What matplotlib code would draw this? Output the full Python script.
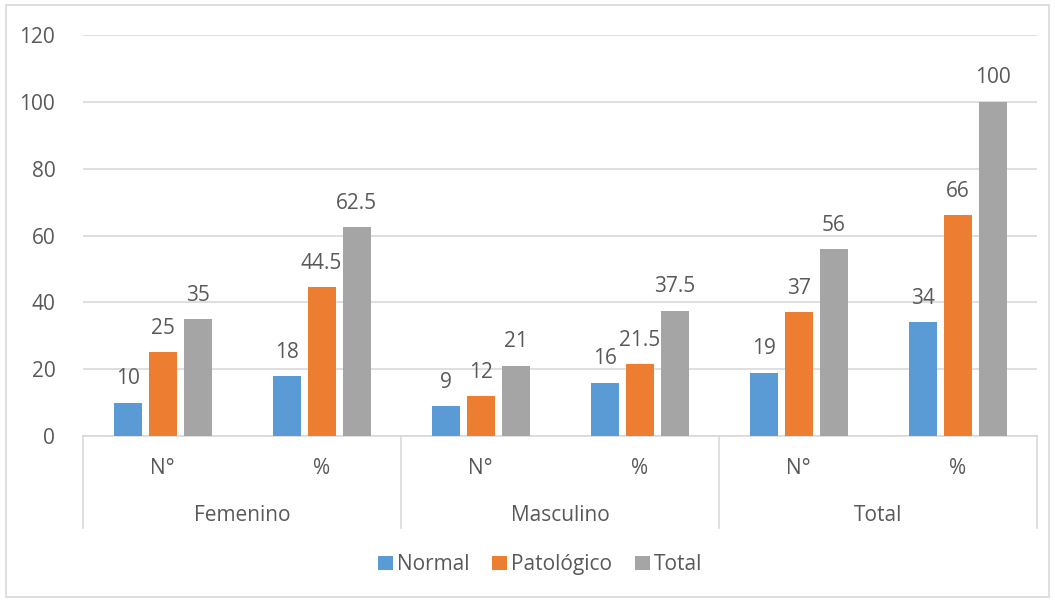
import matplotlib.pyplot as plt
import numpy as np
from matplotlib.patches import Rectangle

plt.rcParams['font.family'] = ['Open Sans', 'DejaVu Sans']

groups = ["Femenino", "Masculino", "Total"]
subcats = ["N°", "%", "N°", "%", "N°", "%"]
series = ["Normal", "Patológico", "Total"]
normal = [10, 18, 9, 16, 19, 34]
patologico = [25, 44.5, 12, 21.5, 37, 66]
total = [35, 62.5, 21, 37.5, 56, 100]
labels = [["10", "18", "9", "16", "19", "34"],
          ["25", "44.5", "12", "21.5", "37", "66"],
          ["35", "62.5", "21", "37.5", "56", "100"]]
colors = ["#5b9bd5", "#ed7d31", "#a5a5a5"]
txt = "#595959"
grid = "#d9d9d9"
fs = 15

fig = plt.figure(figsize=(10.55, 6.01), dpi=100)
fig.patches.append(Rectangle((0.006, 0.006), 0.988, 0.986, transform=fig.transFigure,
                             fill=False, edgecolor=grid, linewidth=1.2))
ax = fig.add_axes([0.0787, 0.2745, 0.9043, 0.6673])

x = np.arange(len(subcats))
w = 0.176
step = 0.22
for i, (vals, name) in enumerate(zip([normal, patologico, total], series)):
    pos = x + (i - 1) * step
    ax.bar(pos, vals, width=w, color=colors[i], label=name, zorder=3)
    for p, v, s in zip(pos, vals, labels[i]):
        ax.text(p, v + 4, s, ha='center', va='bottom', fontsize=fs, color=txt)

ax.set_xlim(-0.5, 5.5)
ax.set_ylim(0, 120)
ax.set_yticks(range(0, 121, 20))
ax.tick_params(axis='y', length=0, labelsize=fs, labelcolor=txt, pad=20)
ax.set_xticks([])
ax.grid(axis='y', color=grid, linewidth=1.2, zorder=0)
for sp in ['top', 'right', 'left']:
    ax.spines[sp].set_visible(False)
ax.spines['bottom'].set_color(grid)
ax.spines['bottom'].set_linewidth(1.2)

# two-level category axis below the bars
trans = ax.get_xaxis_transform()
for b in [-0.5, 1.5, 3.5, 5.5]:
    ax.plot([b, b], [0, -0.23], transform=trans, color=grid, lw=1.2, clip_on=False)
for xi, s in zip(x, subcats):
    ax.text(xi, -0.08, s, transform=trans, ha='center', va='center', fontsize=fs, color=txt)
for gi, g in enumerate(groups):
    ax.text(2 * gi + 0.5, -0.198, g, transform=trans, ha='center', va='center',
            fontsize=fs, color=txt)

fig.legend(loc='center', bbox_to_anchor=(0.512, 0.06), ncol=3, frameon=False,
           fontsize=fs, handlelength=0.7, handleheight=0.7, handletextpad=0.2,
           columnspacing=1.1, labelcolor=txt)

fig.savefig("out.png", dpi=100)
